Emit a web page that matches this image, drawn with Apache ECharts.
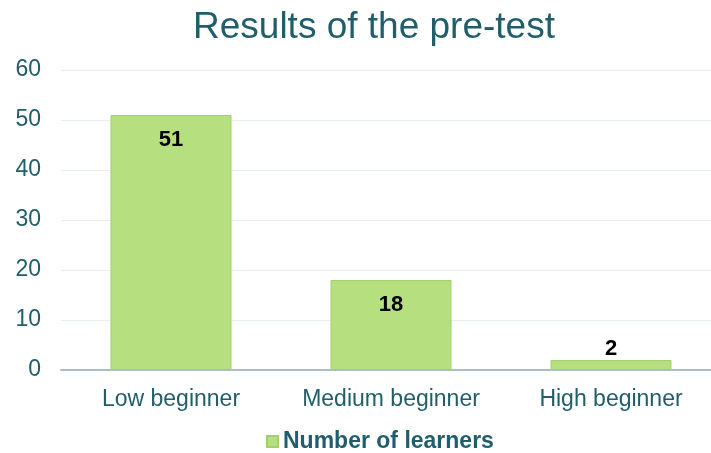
<!DOCTYPE html>
<html>
<head>
<meta charset="utf-8">
<script src="https://cdn.jsdelivr.net/npm/echarts@6/dist/echarts.min.js"></script>
<style>
  html, body { margin: 0; padding: 0; background: #fff; overflow: hidden; }
  #chart { width: 721px; height: 453px; }
</style>
</head>
<body>
<div id="chart"></div>
<script>
// data
var categories = ['Low beginner', 'Medium beginner', 'High beginner'];
var learners = [51, 18, 2];
var seriesName = 'Number of learners';

var teal = '#215e6c';
var chart = echarts.init(document.getElementById('chart'));

chart.setOption({
  animation: false,
  title: {
    text: 'Results of the pre-test',
    left: 369,
    textAlign: 'center',
    top: 4,
    textStyle: { color: teal, fontSize: 37, fontWeight: 'normal', fontFamily: 'Liberation Sans' }
  },
  legend: {
    data: [seriesName],
    icon: 'rect',
    bottom: -5,
    left: 261,
    itemWidth: 11,
    itemHeight: 11,
    itemGap: 6,
    textStyle: { color: teal, fontSize: 23, fontWeight: 'bold', fontFamily: 'Liberation Sans' }
  },
  grid: { left: 61, right: 0, top: 70, bottom: 83, containLabel: false },
  xAxis: {
    type: 'category',
    data: categories,
    axisTick: { show: false },
    axisLine: { lineStyle: { color: '#a9bfc4', width: 2 } },
    axisLabel: { color: teal, fontSize: 23, margin: 18, interval: 0, fontFamily: 'Liberation Sans' }
  },
  yAxis: {
    type: 'value',
    min: 0,
    max: 60,
    interval: 10,
    axisLine: { show: false },
    axisTick: { show: false },
    splitLine: { lineStyle: { color: '#e8efef', width: 1 } },
    axisLabel: { color: teal, fontSize: 23, margin: 20, fontFamily: 'Liberation Sans' }
  },
  series: [{
    name: seriesName,
    type: 'bar',
    data: learners.map(function (v) {
      return { value: v, label: { position: v < 5 ? 'top' : 'insideTop', distance: v < 5 ? 0 : 14 } };
    }),
    barWidth: '55%',
    itemStyle: { color: '#b6df80', borderColor: '#a4d06c', borderWidth: 1 },
    label: {
      show: true,
      color: '#000',
      fontSize: 22,
      fontWeight: 'bold',
      fontFamily: 'Liberation Sans'
    }
  }]
});
</script>
</body>
</html>
